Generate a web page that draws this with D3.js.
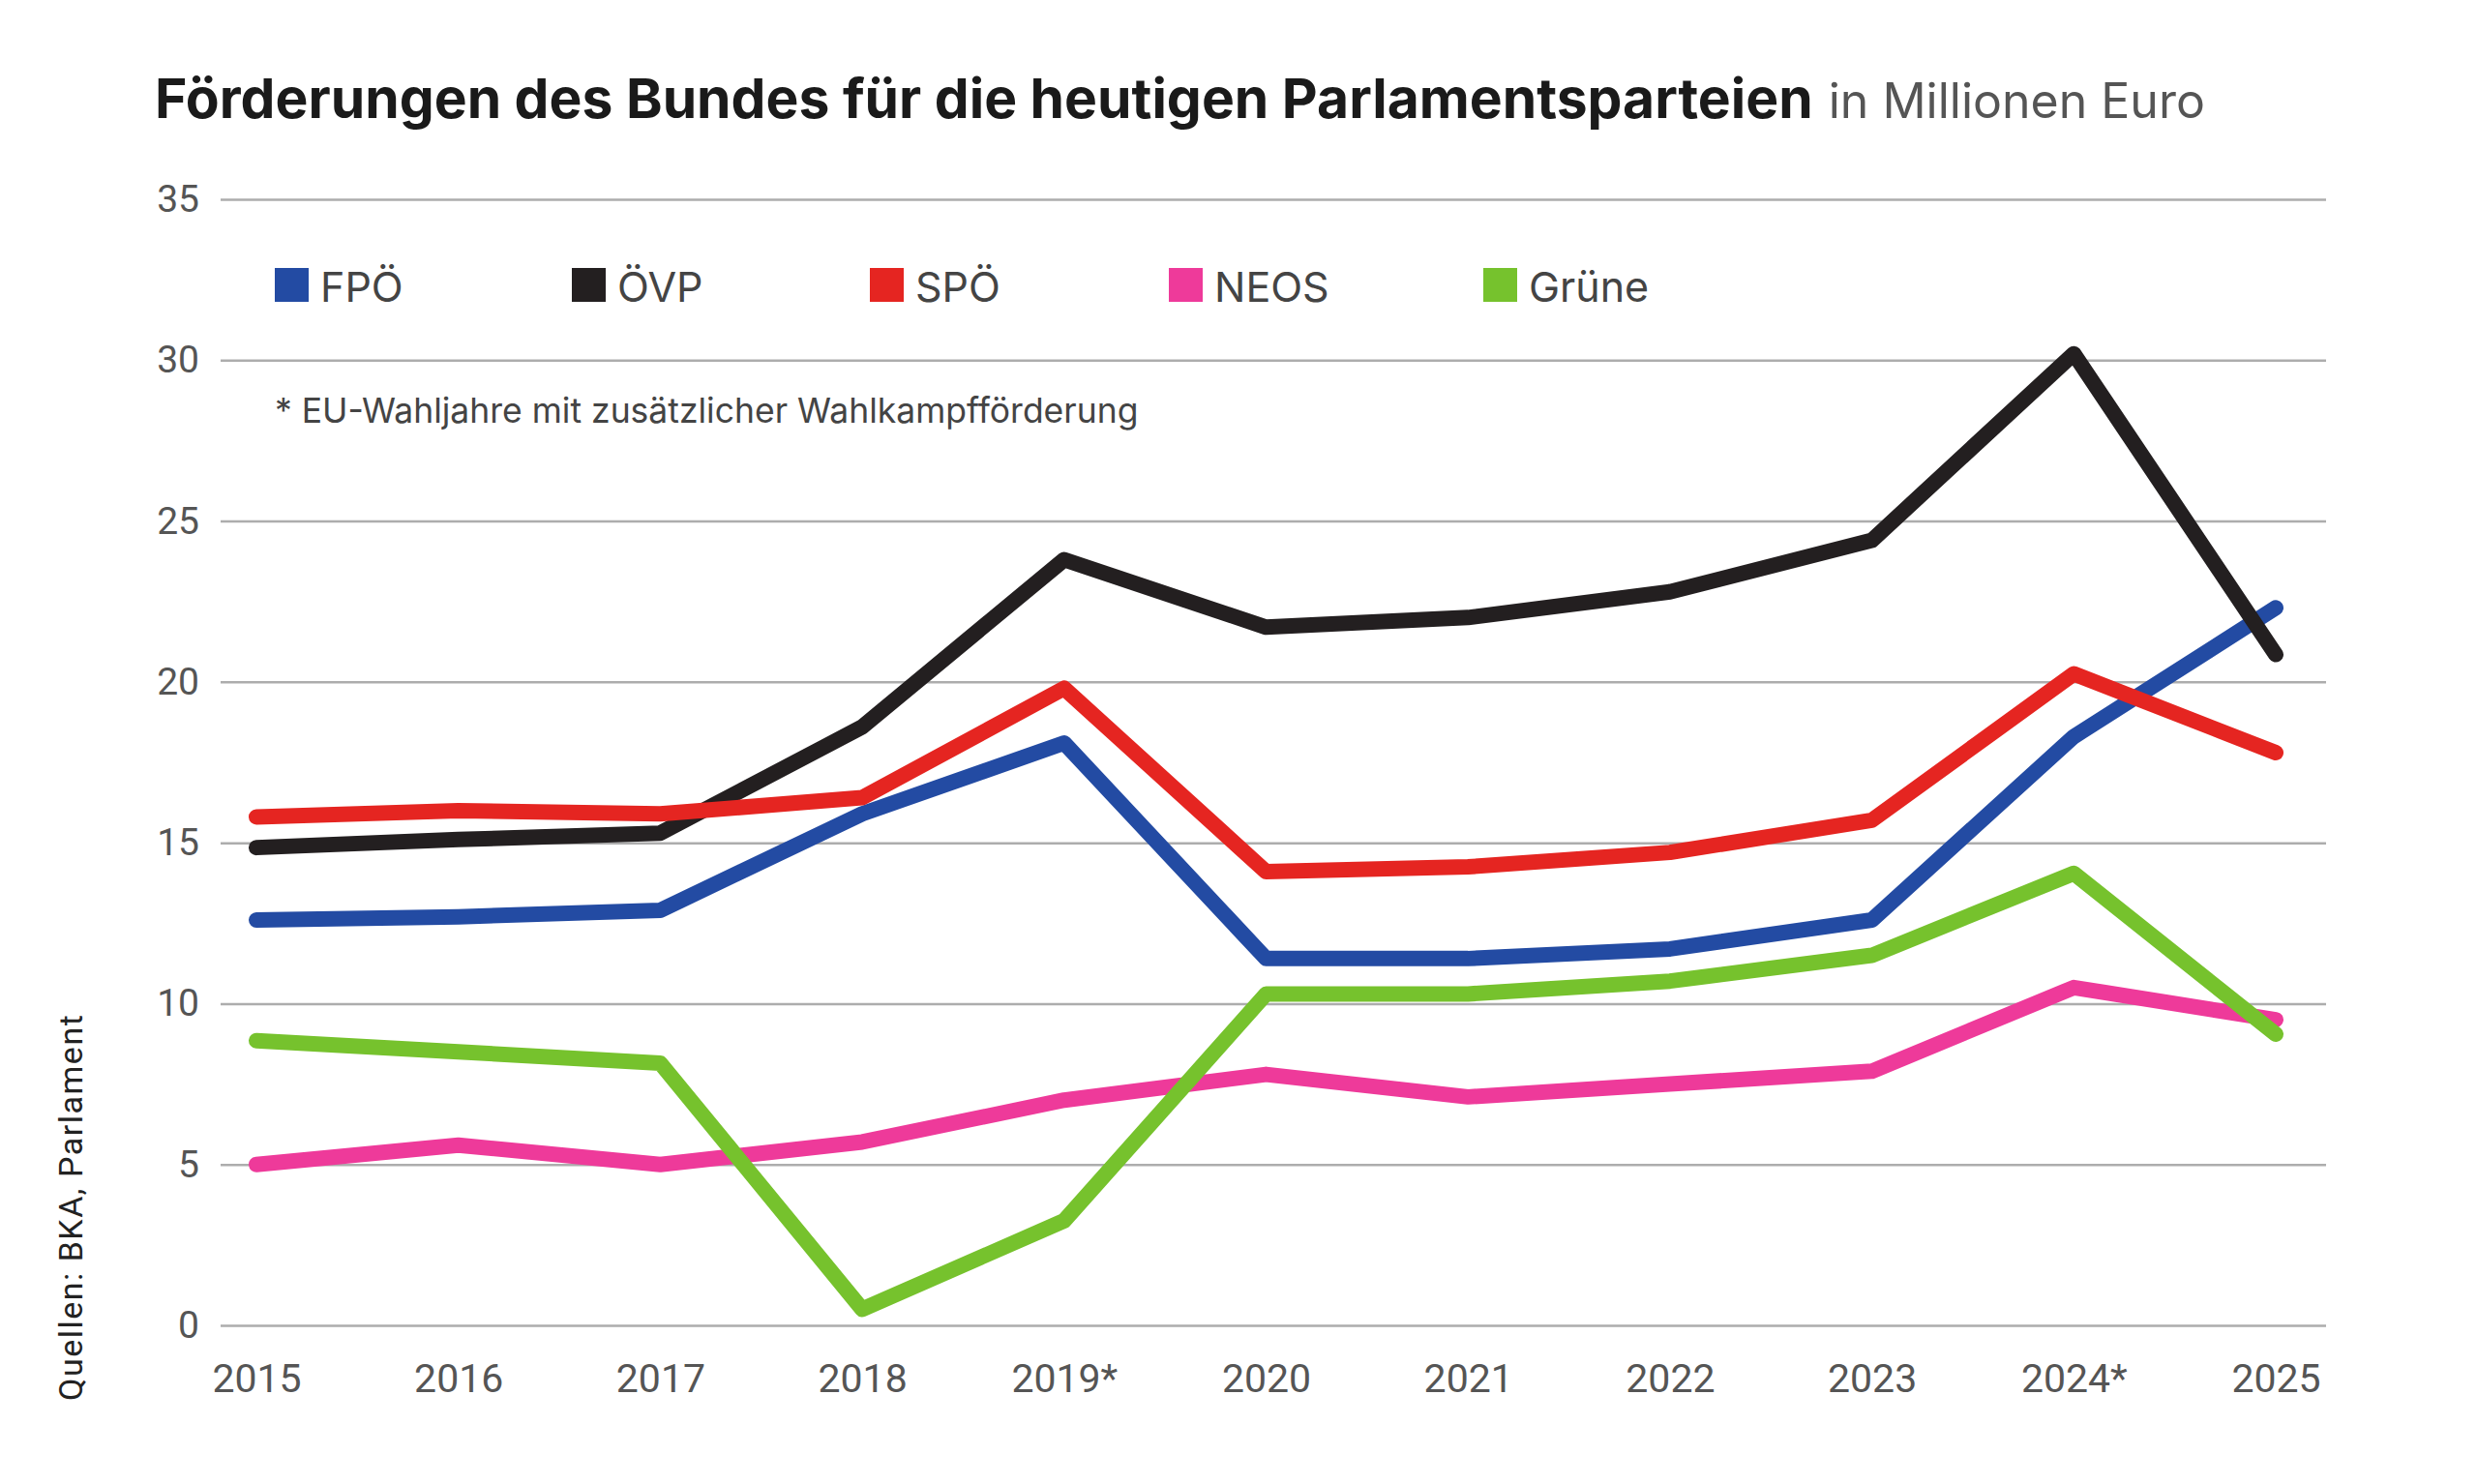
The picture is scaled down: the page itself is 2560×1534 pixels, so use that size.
<!DOCTYPE html>
<meta charset="utf-8">
<head>
  <script src="https://d3js.org/d3.v7.min.js"></script>
  <style>
    body { margin: 0; background: #fff; }
    text { font-family: Roboto, "Liberation Sans", sans-serif; }
    .wide { font-family: Inter, Roboto, sans-serif; }
    .grid line { stroke: #adadad; stroke-width: 2.5; }
    .grid path { display: none; }
    .tick text { fill: #555; }
  </style>
</head>
<body>
<div id="chart"></div>
<script>
"use strict"

// Jahre und Achsenbeschriftungen
var jahre = [2015, 2016, 2017, 2018, 2019, 2020, 2021, 2022, 2023, 2024, 2025];
var jahrLabels = ["2015", "2016", "2017", "2018", "2019*", "2020", "2021", "2022", "2023", "2024*", "2025"];
var yTicks = [0, 5, 10, 15, 20, 25, 30, 35];

// Förderungen in Millionen Euro
var fpoe  = [12.6, 12.7, 12.9, 15.9, 18.1, 11.4, 11.4, 11.7, 12.6, 18.3, 22.3];
var oevp  = [14.85, 15.1, 15.3, 18.6, 23.8, 21.7, 22.0, 22.8, 24.4, 30.2, 20.85];
var spoe  = [15.8, 16.0, 15.9, 16.4, 19.8, 14.1, 14.25, 14.7, 15.7, 20.25, 17.8];
var neos  = [5.0, 5.6, 5.0, 5.7, 7.0, 7.8, 7.1, 7.5, 7.9, 10.5, 9.5];
var gruene = [8.85, 8.5, 8.15, 0.5, 3.25, 10.3, 10.3, 10.7, 11.5, 14.05, 9.05];

var parteien = ["FPÖ", "ÖVP", "SPÖ", "NEOS", "Grüne"];
var farben = ["#234ba3", "#231f20", "#e52521", "#ee3a9a", "#76c22d"];
var reihen = [fpoe, oevp, spoe, neos, gruene];

var larguraSVG = 2560, alturaSVG = 1534;

var svg = d3.select("#chart")
            .append("svg")
              .attr("width", larguraSVG)
              .attr("height", alturaSVG);

var x = d3.scaleLinear()
          .domain([2015, 2025])
          .range([265, 2352]);

var y = d3.scaleLinear()
          .domain([0, 35])
          .range([1370, 206]);

// Titel
var titel = svg.append("text")
   .attr("class", "wide")
   .attr("x", 160)
   .attr("y", 122)
   .style("font-size", "57px")
   .style("font-weight", "700")
   .style("fill", "#1a1a1a");
titel.append("tspan").text("Förderungen des Bundes für die heutigen Parlamentsparteien");
titel.append("tspan")
   .attr("dx", 16)
   .style("font-weight", "400")
   .style("font-size", "50px")
   .style("fill", "#555")
   .text("in Millionen Euro");

// Gitterlinien und y-Achse
svg.append("g")
   .attr("class", "grid")
   .attr("transform", "translate(228,0)")
   .call(d3.axisLeft(y).tickValues(yTicks).tickSize(-(2404 - 228)).tickPadding(22))
   .selectAll("text")
   .style("font-size", "39px");

// x-Achse
var xAchse = svg.append("g")
   .attr("transform", "translate(0,1370)")
   .call(d3.axisBottom(x).tickValues(jahre).tickSize(0).tickPadding(40)
           .tickFormat(function(d, i) { return jahrLabels[i]; }));
xAchse.select("path").remove();
xAchse.selectAll("text").style("font-size", "41px");

// Linien
var linie = d3.line()
              .x(function(d, i) { return x(jahre[i]); })
              .y(function(d) { return y(d); });

svg.selectAll("path.serie")
   .data(reihen)
   .enter()
   .append("path")
   .attr("class", "serie")
   .attr("d", linie)
   .style("fill", "none")
   .style("stroke", function(d, i) { return farben[i]; })
   .style("stroke-width", 16)
   .style("stroke-linecap", "round")
   .style("stroke-linejoin", "round");

// Legende
var legX = [284, 591, 899, 1208, 1533];
var leg = svg.selectAll("g.leg")
   .data(parteien)
   .enter()
   .append("g")
   .attr("class", "leg")
   .attr("transform", function(d, i) { return "translate(" + legX[i] + ",277)"; });

leg.append("rect")
   .attr("width", 35)
   .attr("height", 35)
   .style("fill", function(d, i) { return farben[i]; });

leg.append("text")
   .attr("class", "wide")
   .attr("x", 47)
   .attr("y", 35)
   .style("font-size", "43px")
   .style("fill", "#444")
   .text(function(d) { return d; });

// Fußnote
svg.append("text")
   .attr("class", "wide")
   .attr("x", 284)
   .attr("y", 437)
   .style("font-size", "35.5px")
   .style("fill", "#444")
   .text("* EU-Wahljahre mit zusätzlicher Wahlkampfförderung");

// Quelle
svg.append("text")
   .attr("transform", "translate(85,1448) rotate(-90)")
   .style("font-size", "34px")
   .style("letter-spacing", "1.5px")
   .style("fill", "#222")
   .text("Quellen: BKA, Parlament");
</script>
</body>
</html>
